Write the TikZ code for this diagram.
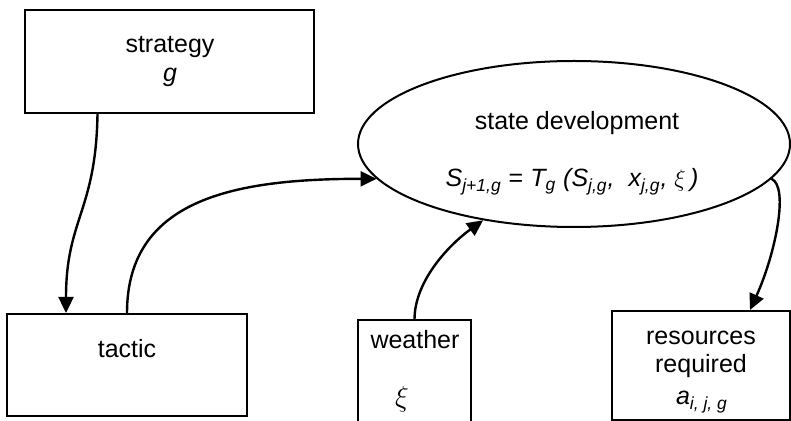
\documentclass[tikz,border=0pt]{standalone}
\usepackage{fontspec}
\setmainfont{Liberation Sans}
\usetikzlibrary{arrows.meta,shapes.geometric}
\newcommand{\idx}[1]{\textsubscript{\itshape #1}}

\begin{document}
\begin{tikzpicture}[x=0.5pt,y=-0.5pt,
    font=\fontsize{12.5}{15}\selectfont,
    box/.style={draw, line width=1pt, inner sep=0pt},
    lbl/.style={anchor=base, inner sep=0pt},
    flow/.style={line width=1.2pt, -{Triangle[length=8pt,width=7.5pt]}}]
  \useasboundingbox (0,0) rectangle (791,421);
  % boxes and the state ellipse
  \node[box, minimum width=144.5pt, minimum height=51.5pt] (strategy) at (169.5,61.5) {};
  \node[box, minimum width=120pt, minimum height=51pt] (tactic) at (127,365) {};
  \node[inner sep=0pt, minimum width=56.5pt, minimum height=50.5pt] (weather) at (414.5,370.5) {};
  \draw[line width=1pt] (weather.south west) -- (weather.north west) -- (weather.north east) -- (weather.south east);
  \node[box, minimum width=89pt, minimum height=54.5pt] (resources) at (701,365.5) {};
  \node[box, ellipse, minimum width=216pt, minimum height=83pt] (state) at (574,144) {};
  % labels
  \node[lbl] (strategy name) at (170,53) {strategy};
  \node[lbl] (strategy var) at (170,82) {\textit{g}};
  \node[lbl] (tactic name) at (127,358) {tactic};
  \node[lbl] (weather name) at (415,349) {weather};
  \node[scale=1.2] (weather var) at (402,399) {$\xi$};
  \node[lbl] (resources name) at (701,345) {resources};
  \node[lbl] (resources req) at (701,373) {required};
  \node[lbl] (resources var) at (702,405) {\textit{a}\idx{i, j, g}};
  \node[lbl] (state name) at (577,130) {state development};
  \node[lbl] (state eq) at (572,187) {\itshape S\idx{j+1,g} {\upshape =} T\idx{g} (S\idx{j,g}, \ x\idx{j,g}, $\xi$\,)};
  % connectors
  \draw[flow] ([xshift=-36pt]strategy.south) .. controls +(-1.5,97) and +(0,-94) .. ([xshift=-30.5pt]tactic.north);
  \draw[flow] (tactic.north) .. controls +(0,-114) and +(-142,0) .. (state.190);
  \draw[flow] (weather.north) .. controls +(0,-40) and +(-32,23) .. (state.220);
  \draw[flow] (state.-10) .. controls +(18,8) and +(25,-55) .. ([xshift=24.5pt]resources.north);
\end{tikzpicture}
\end{document}
